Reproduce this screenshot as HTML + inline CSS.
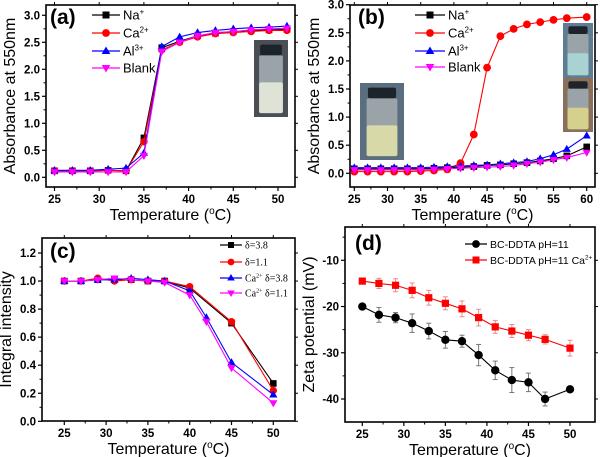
<!DOCTYPE html>
<html><head><meta charset="utf-8">
<style>
html,body{margin:0;padding:0;background:#fff;}
svg{display:block;font-family:"Liberation Sans",sans-serif;}
</style></head>
<body>
<svg id="fig" width="600" height="457" viewBox="0 0 600 457" xmlns="http://www.w3.org/2000/svg"></svg>
<script>
// ---------- Panel (a) data ----------
const aX = [25,27,29,31,33,35,37,39,41,43,45,47,49,51];
const aNa = [0.12,0.12,0.12,0.13,0.12,0.73,2.40,2.52,2.62,2.67,2.70,2.72,2.73,2.74];
const aCa = [0.12,0.12,0.12,0.13,0.12,0.66,2.36,2.50,2.60,2.66,2.68,2.70,2.72,2.72];
const aAl = [0.13,0.13,0.13,0.15,0.17,0.45,2.42,2.60,2.68,2.72,2.75,2.77,2.78,2.80];
const aBlank = [0.10,0.10,0.10,0.10,0.10,0.40,2.33,2.50,2.62,2.68,2.70,2.73,2.75,2.76];
const aXTicks = [25,30,35,40,45,50];
const aYTicks = [0.0,0.5,1.0,1.5,2.0,2.5,3.0];
// ---------- Panel (b) data ----------
const bX = [25,27,29,31,33,35,37,39,41,43,45,47,49,51,53,55,57,60];
const bNa = [0.08,0.08,0.08,0.08,0.08,0.08,0.09,0.10,0.11,0.12,0.14,0.15,0.17,0.19,0.22,0.26,0.31,0.47];
const bCa = [0.03,0.03,0.03,0.03,0.03,0.04,0.05,0.07,0.18,0.69,1.88,2.44,2.57,2.65,2.69,2.73,2.76,2.78];
const bAl = [0.10,0.10,0.10,0.10,0.10,0.10,0.11,0.12,0.13,0.14,0.15,0.17,0.19,0.21,0.26,0.33,0.43,0.67];
const bBlank = [0.06,0.06,0.06,0.06,0.06,0.06,0.07,0.08,0.09,0.10,0.11,0.12,0.14,0.17,0.20,0.24,0.28,0.37];
const bXTicks = [25,30,35,40,45,50,55,60];
const bYTicks = [0.0,0.5,1.0,1.5,2.0,2.5,3.0];
// ---------- Panel (c) data ----------
const cX1 = [25,27,29,31,33,35,37,40,45,50];
const cX2 = [25,27,29,31,33,35,37,40,42,45,50];
const cD38 = [1.00,1.00,1.01,1.01,1.01,1.00,1.00,0.95,0.70,0.27];
const cD11 = [1.00,1.00,1.02,1.00,1.01,1.00,1.00,0.96,0.71,0.22];
const cCaD38 = [1.00,1.00,1.01,1.01,1.02,1.01,1.00,0.93,0.74,0.42,0.19];
const cCaD11 = [1.00,1.00,1.01,1.02,1.01,1.00,0.99,0.90,0.71,0.38,0.13];
const cXTicks = [25,30,35,40,45,50];
const cYTicks = [0.0,0.2,0.4,0.6,0.8,1.0,1.2];
// ---------- Panel (d) data ----------
const dX = [25,27,29,31,33,35,37,39,41,43,45,47,50];
const dBlack = [-20,-21.8,-22.4,-23.6,-25.3,-27.2,-27.5,-30.5,-33.8,-35.9,-36.4,-40,-37.9];
const dBlackErr = [0,1.6,1.1,2.0,1.7,1.8,1.3,2.3,2.0,2.7,2.0,1.5,0];
const dRed = [-14.5,-15,-15.4,-16.5,-18.1,-19.3,-20.5,-22.4,-24.4,-25.3,-26.2,-27.1,-29];
const dRedErr = [0,1.1,1.4,1.6,1.6,1.4,1.7,1.8,1.4,1.4,1.2,1.0,1.7];
const dXTicks = [25,30,35,40,45,50];
const dYTicks = [-40,-30,-20,-10];

const NS = "http://www.w3.org/2000/svg";
const svg = document.getElementById('fig');
function el(tag, attrs, parent, text){
  const e = document.createElementNS(NS, tag);
  for (const k in attrs) e.setAttribute(k, attrs[k]);
  if (text !== undefined) e.textContent = text;
  (parent || svg).appendChild(e);
  return e;
}
function scale(d0,d1,p0,p1){ return v => p0 + (v-d0)/(d1-d0)*(p1-p0); }

function marker(g, type, x, y, c, s){
  s = s || 4.2;
  let m;
  if (type==='sq') m = el('rect',{x:x-s,y:y-s,width:2*s,height:2*s,fill:c},g);
  else if (type==='ci') m = el('circle',{cx:x,cy:y,r:s+0.4,fill:c},g);
  else if (type==='up') m = el('polygon',{points:`${x},${y-s-1} ${x-s-0.8},${y+s-0.5} ${x+s+0.8},${y+s-0.5}`,fill:c},g);
  else m = el('polygon',{points:`${x},${y+s+1} ${x-s-0.8},${y-s+0.5} ${x+s+0.8},${y-s+0.5}`,fill:c},g);
  return m;
}

function axes(name, box, xs, ys, xTicks, yTicks, yFmt, xTitle, yTitle, minorX, minorY){
  const g = el('g',{}, svg);
  
  
  const fr = el('rect',{x:box.l,y:box.t,width:box.r-box.l,height:box.b-box.t,fill:'none',stroke:'#000','stroke-width':1.6},g);
  
  
  xTicks.forEach(v=>{
    const x = xs(v);
    el('line',{x1:x,y1:box.b,x2:x,y2:box.b+4,stroke:'#000','stroke-width':1.2},g);
    el('line',{x1:x,y1:box.t,x2:x,y2:box.t-3,stroke:'#000','stroke-width':1},g);
    const t = el('text',{x:x,y:box.b+16,'text-anchor':'middle','font-size':11.5,'font-weight':'bold'},g,String(v));
    
    
  });
  minorX.forEach(v=>{ const x=xs(v); el('line',{x1:x,y1:box.b,x2:x,y2:box.b+2.5,stroke:'#000','stroke-width':1},g); });
  yTicks.forEach(v=>{
    const y = ys(v);
    el('line',{x1:box.l-4,y1:y,x2:box.l,y2:y,stroke:'#000','stroke-width':1.2},g);
    el('line',{x1:box.r,y1:y,x2:box.r+3,y2:y,stroke:'#000','stroke-width':1},g);
    const t = el('text',{x:box.l-6,y:y+4,'text-anchor':'end','font-size':11.5,'font-weight':'bold'},g,yFmt(v));
    
    
  });
  minorY.forEach(v=>{ const y=ys(v); el('line',{x1:box.l-2.5,y1:y,x2:box.l,y2:y,stroke:'#000','stroke-width':1},g); });
  const xt = el('text',{x:(box.l+box.r)/2,y:box.b+33,'text-anchor':'middle','font-size':16},g);
  
  
  el('tspan',{},xt,'Temperature (');
  el('tspan',{'font-size':10,dy:-6},xt,'o');
  el('tspan',{dy:6},xt,'C)');
  const yt = el('text',{x:0,y:0,'text-anchor':'middle','font-size':16,transform:`translate(${box.l-31},${(box.t+box.b)/2}) rotate(-90)`},g,yTitle);
  
  
}

function series(name, xsArr, ysArr, xs, ys, c, type, s){
  const g = el('g',{},svg);
  
  
  const pts = xsArr.map((v,i)=>xs(v)+','+ys(ysArr[i])).join(' ');
  el('polyline',{points:pts,fill:'none',stroke:c,'stroke-width':1.1},g);
  xsArr.forEach((v,i)=>{
    const m = marker(g,type,xs(v),ys(ysArr[i]),c,s);
    
    
  });
}

function legendEntry(name, x, y, c, type, label, sup, fs, font, lineLen, ms){
  const g = el('g',{},svg);
  
  
  el('line',{x1:x,y1:y,x2:x+lineLen,y2:y,stroke:c,'stroke-width':1.2},g);
  marker(g,type,x+lineLen/2,y,c,ms);
  const t = el('text',{x:x+lineLen+3,y:y+fs*0.36,'font-size':fs,'font-family':font},g);
  if (typeof label === 'string') {
    el('tspan',{},t,label);
    if (sup) { el('tspan',{'font-size':fs*0.6,dy:-fs*0.4},t,sup); }
  } else label(t);
}

function panelLabel(name, x, y, txt){
  const t = el('text',{x:x,y:y,'font-size':21,'font-weight':'bold'},svg,txt);
  
  
}

function photo(name, x, y, w, h, liquid, top){
  const g = el('g',{},svg);
  
  
  el('rect',{x:x,y:y,width:w,height:h,fill:top||'#3d4852'},g);
  el('rect',{x:x+w*0.18,y:y+h*0.06,width:w*0.64,height:h*0.14,fill:'#1d232b',rx:2},g);
  el('rect',{x:x+w*0.15,y:y+h*0.2,width:w*0.7,height:h*0.75,fill:'#9aa4a8',rx:2},g);
  el('rect',{x:x+w*0.15,y:y+h*0.55,width:w*0.7,height:h*0.4,fill:liquid,rx:2},g);
}

// ---------- Panel (a) ----------
const A = {l:46,r:295,t:5,b:187};
const axA = scale(25,50,54.5,278), ayA = scale(0,3,177.3,15.3);
axes('panel-a', A, axA, ayA, aXTicks, aYTicks, v=>v.toFixed(1), null, 'Absorbance at 550nm', [27.5,32.5,37.5,42.5,47.5], [0.25,0.75,1.25,1.75,2.25,2.75]);
photo('panel-a-inset-photo', 254, 40, 34, 77, '#dfe3d6', '#4a4f55');
series('series-a-na', aX, aNa, axA, ayA, '#000', 'sq', 3.3);
series('series-a-ca', aX, aCa, axA, ayA, '#f00', 'ci', 3.3);
series('series-a-al', aX, aAl, axA, ayA, '#00f', 'up', 3.3);
series('series-a-blank', aX, aBlank, axA, ayA, '#f0f', 'dn', 3.3);
panelLabel('panel-a-label', 50, 24, '(a)');
legendEntry('legend-a-na', 92, 15, '#000', 'sq', 'Na', '+', 13, 'Liberation Sans', 28, 3.5);
legendEntry('legend-a-ca', 92, 33, '#f00', 'ci', 'Ca', '2+', 13, 'Liberation Sans', 28, 3.5);
legendEntry('legend-a-al', 92, 51, '#00f', 'up', 'Al', '3+', 13, 'Liberation Sans', 28, 3.5);
legendEntry('legend-a-blank', 92, 68, '#f0f', 'dn', 'Blank', null, 13, 'Liberation Sans', 28, 3.5);

// ---------- Panel (b) ----------
const B = {l:350,r:595,t:5,b:187};
const axB = scale(25,60,354.3,586.7), ayB = scale(0,3,173.3,4.7);
axes('panel-b', B, axB, ayB, bXTicks, bYTicks, v=>v.toFixed(1), null, 'Absorbance at 550nm', [27.5,32.5,37.5,42.5,47.5,52.5,57.5], [0.25,0.75,1.25,1.75,2.25,2.75]);
photo('panel-b-inset-photo-left', 360, 83, 44, 77, '#d8d9a8', '#5a6e80');
photo('panel-b-inset-photo-top-right', 563, 23, 30, 55, '#a9d3d3', '#5f7d92');
photo('panel-b-inset-photo-bottom-right', 563, 78, 30, 54, '#d6d08e', '#8a6f5a');
series('series-b-na', bX, bNa, axB, ayB, '#000', 'sq', 3.3);
series('series-b-ca', bX, bCa, axB, ayB, '#f00', 'ci', 3.5);
series('series-b-al', bX, bAl, axB, ayB, '#00f', 'up', 3.3);
series('series-b-blank', bX, bBlank, axB, ayB, '#f0f', 'dn', 3.3);
panelLabel('panel-b-label', 358, 24, '(b)');
legendEntry('legend-b-na', 415, 15, '#000', 'sq', 'Na', '+', 13, 'Liberation Sans', 30, 3.5);
legendEntry('legend-b-ca', 415, 33, '#f00', 'ci', 'Ca', '2+', 13, 'Liberation Sans', 30, 3.5);
legendEntry('legend-b-al', 415, 51, '#00f', 'up', 'Al', '3+', 13, 'Liberation Sans', 30, 3.5);
legendEntry('legend-b-blank', 415, 67, '#f0f', 'dn', 'Blank', null, 13, 'Liberation Sans', 30, 3.5);

// ---------- Panel (c) ----------
const C = {l:42,r:295,t:238,b:421};
const axC = scale(25,50,64.3,273.3), ayC = scale(0,1.2,421.3,253);
axes('panel-c', C, axC, ayC, cXTicks, cYTicks, v=>v.toFixed(1), null, 'Integral intensity', [27.5,32.5,37.5,42.5,47.5], [0.1,0.3,0.5,0.7,0.9,1.1]);
series('series-c-d38', cX1, cD38, axC, ayC, '#000', 'sq', 3.3);
series('series-c-d11', cX1, cD11, axC, ayC, '#f00', 'ci', 3.3);
series('series-c-ca-d38', cX2, cCaD38, axC, ayC, '#00f', 'up', 3.3);
series('series-c-ca-d11', cX2, cCaD11, axC, ayC, '#f0f', 'dn', 3.3);
panelLabel('panel-c-label', 50, 258, '(c)');
const serif = '"Liberation Serif", serif';
legendEntry('legend-c-d38', 220, 245, '#000', 'sq', 'δ=3.8', null, 10, serif, 22, 3);
legendEntry('legend-c-d11', 220, 262, '#f00', 'ci', 'δ=1.1', null, 10, serif, 22, 3);
legendEntry('legend-c-ca-d38', 220, 278, '#00f', 'up', t=>{el('tspan',{},t,'Ca');el('tspan',{'font-size':6,dy:-4},t,'2+');el('tspan',{dy:4},t,' δ=3.8');}, null, 10, serif, 22, 3);
legendEntry('legend-c-ca-d11', 220, 293, '#f0f', 'dn', t=>{el('tspan',{},t,'Ca');el('tspan',{'font-size':6,dy:-4},t,'2+');el('tspan',{dy:4},t,' δ=1.1');}, null, 10, serif, 22, 3);

// ---------- Panel (d) ----------
const D = {l:345,r:595,t:227,b:422};
const axD = scale(25,50,362.3,570), ayD = scale(-40,-10,399,260.3);
axes('panel-d', D, axD, ayD, dXTicks, dYTicks, v=>String(v), null, 'Zeta potential (mV)', [27.5,32.5,37.5,42.5,47.5], [-35,-25,-15,-5]);
function errBars(name, xsArr, vals, errs, c){
  const g = el('g',{},svg);
  
  
  xsArr.forEach((v,i)=>{
    if (!errs[i]) return;
    const x = axD(v), y1 = ayD(vals[i]+errs[i]), y2 = ayD(vals[i]-errs[i]);
    el('line',{x1:x,y1:y1,x2:x,y2:y2,stroke:c,'stroke-width':1},g);
    el('line',{x1:x-2.5,y1:y1,x2:x+2.5,y2:y1,stroke:c,'stroke-width':1},g);
    el('line',{x1:x-2.5,y1:y2,x2:x+2.5,y2:y2,stroke:c,'stroke-width':1},g);
  });
}
errBars('error-bars-d-black', dX, dBlack, dBlackErr, '#777');
errBars('error-bars-d-red', dX, dRed, dRedErr, '#e88');
series('series-d-bc-ddta', dX, dBlack, axD, ayD, '#000', 'ci', 3.8);
series('series-d-bc-ddta-ca', dX, dRed, axD, ayD, '#f00', 'sq', 3.6);
panelLabel('panel-d-label', 355, 250, '(d)');
legendEntry('legend-d-bc-ddta', 465, 244, '#000', 'ci', 'BC-DDTA pH=11', null, 10.5, 'Liberation Sans', 22, 3.5);
legendEntry('legend-d-bc-ddta-ca', 465, 260, '#f00', 'sq', 'BC-DDTA pH=11 Ca', '2+', 10.5, 'Liberation Sans', 22, 3.5);
</script>
</body></html>
